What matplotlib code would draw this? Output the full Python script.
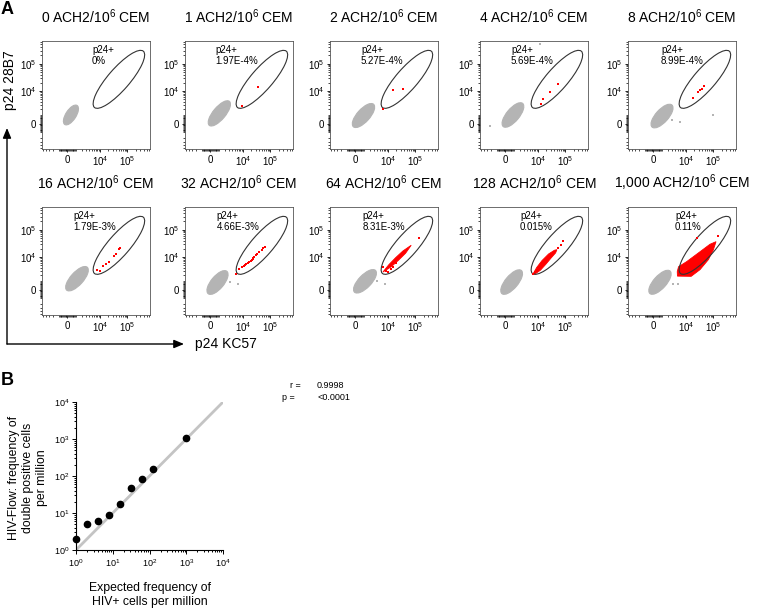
import numpy as np
import matplotlib
matplotlib.use("Agg")
import matplotlib.pyplot as plt
from matplotlib.patches import Ellipse, Polygon, FancyArrowPatch

plt.rcParams["font.family"] = ["Liberation Sans", "DejaVu Sans"]
plt.rcParams["mathtext.fontset"] = "custom"
plt.rcParams["mathtext.rm"] = "Liberation Sans"
plt.rcParams["mathtext.it"] = "Liberation Sans:italic"
plt.rcParams["mathtext.bf"] = "Liberation Sans:bold"

# --- panel A: flow plots, positions in display channels (0-1000) ---
ach2_counts = ["0", "1", "2", "4", "8", "16", "32", "64", "128", "1,000"]
p24_freq = ["0%", "1.97E-4%", "5.27E-4%", "5.69E-4%", "8.99E-4%",
            "1.79E-3%", "4.66E-3%", "8.31E-3%", "0.015%", "0.11%"]
label_x = [463, 278, 287, 287, 306, 287, 293, 303, 370, 435]

# negative (p24-) population: center x, center y, length, width, angle
blob_x = [268, 318, 310, 305, 315, 324, 301, 324, 293, 296]
blob_y = [315, 330, 310, 315, 305, 336, 301, 312, 305, 303]
blob_len = [210, 290, 280, 280, 275, 285, 270, 280, 280, 280]
blob_wid = [95, 115, 118, 118, 118, 118, 118, 118, 118, 118]
blob_ang = [57, 50, 48, 50, 48, 48, 50, 46, 50, 48]

grey_events = [
    [], [], [],
    [(93, 213), (555, 975)],
    [(404, 268), (481, 250), (790, 312)],
    [],
    [(417, 303), (488, 284)],
    [(432, 315), (512, 284)],
    [],
    [(419, 284), (466, 284)],
]

red_events = [
    [],
    [(528, 398), (673, 577)],
    [(494, 373), (580, 549), (673, 553)],
    [(562, 419), (580, 465), (648, 531), (719, 605)],
    [(605, 475), (651, 528), (667, 543), (682, 558), (704, 580)],
    [(506, 417), (537, 410), (568, 454), (593, 469), (623, 494), (669, 546),
     (685, 565), (713, 608), (722, 623)],
    [(472, 377), (503, 426), (525, 447), (546, 457), (556, 463), (565, 472),
     (580, 484), (586, 478), (593, 494), (608, 503), (617, 509), (627, 525),
     (632, 518), (639, 537), (657, 556), (670, 568), (688, 586), (710, 605),
     (725, 617), (741, 632)],
    [(494, 447), (519, 407), (534, 395), (565, 426), (580, 447), (611, 478),
     (821, 716)],
    [(493, 377), (509, 395), (725, 623), (747, 648), (771, 685)],
    [(642, 716), (836, 734)],
]

# dense red areas (too many events to list)
red_area = [
    None, None, None, None, None, None, None,
    [(490, 398), (545, 466), (607, 530), (674, 592), (752, 646),
     (700, 572), (635, 508), (569, 448)],
    [(488, 375), (525, 440), (575, 505), (635, 565), (690, 600), (712, 605),
     (700, 575), (660, 530), (610, 470), (560, 415), (510, 380)],
    [(458, 360), (585, 358), (667, 420), (744, 512), (790, 602), (815, 679),
     (759, 655), (667, 586), (543, 494), (468, 447), (456, 401)],
]

gate = (712, 645, 690, 200, 49)

# --- panel B ---
expected = [1, 2, 4, 8, 16, 32, 64, 128, 1000]
observed = [2, 5, 6, 9, 18, 47, 83, 152, 1070]
fit_x = [1, 10000]
fit_y = [1, 10000]


def chan(v):
    v = np.asarray(v, dtype=float)
    return 235 + 255 * np.arcsinh(v / 1333) / np.log(10)


W, H = 760, 611


def rect(l, t, w, h):
    return [l / W, 1 - (t + h) / H, w / W, h / H]


fig = plt.figure(figsize=(7.6, 6.11), dpi=100)

lefts = [42, 185, 330, 480, 628]
tops = [41, 207]
title_y = [17, 183]

major = chan([0, 1e4, 1e5])
minor_v = []
for e in [2, 3, 4, 5]:
    for k in range(1, 10):
        minor_v.append(k * 10 ** e)
        if e < 4:
            minor_v.append(-k * 10 ** e)
minor = chan(minor_v)
minor = minor[(minor > 0) & (minor < 1000)]

for i in range(10):
    row, col = divmod(i, 5)
    ax = fig.add_axes(rect(lefts[col], tops[row], 108, 108))
    ax.set_xlim(0, 1000)
    ax.set_ylim(0, 1000)

    ax.add_patch(Ellipse((blob_x[i], blob_y[i]), blob_len[i], blob_wid[i],
                         angle=blob_ang[i], fc="#b4b4b4", ec="#b4b4b4", lw=0.8))
    if grey_events[i]:
        gx, gy = zip(*grey_events[i])
        ax.plot(gx, gy, "s", color="#b4b4b4", ms=1.7, mew=0)
    if red_area[i] is not None:
        ax.add_patch(Polygon(red_area[i], closed=True, fc="red", ec="red", lw=0.6))
    if red_events[i]:
        rx, ry = zip(*red_events[i])
        ax.plot(rx, ry, "s", color="red", ms=1.8, mew=0)

    gx0, gy0, gl, gw, ga = gate
    ax.add_patch(Ellipse((gx0, gy0), gl, gw, angle=ga, fill=False,
                         ec="#333333", lw=0.8))
    ax.text(label_x[i], 960, "p24+\n" + p24_freq[i], fontsize=7, va="top",
            ha="left", linespacing=1.05)

    ax.set_xticks(major)
    ax.set_xticklabels(["0", "10$^4$", "10$^5$"])
    ax.set_yticks(major)
    ax.set_yticklabels(["0", "10$^4$", "10$^5$"])
    ax.set_xticks(minor, minor=True)
    ax.set_yticks(minor, minor=True)
    ax.tick_params(which="both", direction="out", labelsize=7, width=0.6,
                   pad=1.5, colors="black")
    ax.tick_params(which="major", length=2.5)
    ax.tick_params(which="minor", length=1.3, width=0.5)
    for s in ax.spines.values():
        s.set_linewidth(0.6)
        s.set_color("#555555")

    fig.text((lefts[col] + 54) / W, 1 - title_y[row] / H,
             ach2_counts[i] + " ACH2/10$^6$ CEM", fontsize=10,
             ha="center", va="center")

# axis arrows for panel A
corner = (7 / W, 1 - 344 / H)
for tip in [(7 / W, 1 - 128 / H), (184 / W, 1 - 344 / H)]:
    fig.add_artist(FancyArrowPatch(corner, tip, transform=fig.transFigure,
                                   arrowstyle="-|>,head_length=0.6,head_width=0.25",
                                   mutation_scale=10, lw=1, color="black",
                                   shrinkA=0, shrinkB=0))
fig.text(10 / W, 1 - 80 / H, "p24 28B7", rotation=90, fontsize=10,
         ha="center", va="center")
fig.text(195 / W, 1 - 344 / H, "p24 KC57", fontsize=10, ha="left", va="center")

fig.text(1 / W, 1 - 1 / H, "A", fontsize=13, fontweight="bold", ha="left", va="top")
fig.text(1 / W, 1 - 372 / H, "B", fontsize=13, fontweight="bold", ha="left", va="top")

# panel B
axb = fig.add_axes(rect(76, 402, 147, 148))
axb.plot(fit_x, fit_y, color="#c4c4c4", lw=2, zorder=1)
axb.plot(expected, observed, "o", color="black", ms=4.5, clip_on=False, zorder=3)
axb.set_xscale("log")
axb.set_yscale("log")
axb.set_xlim(1, 1e4)
axb.set_ylim(1, 1e4)
axb.spines["top"].set_visible(False)
axb.spines["right"].set_visible(False)
axb.tick_params(which="both", direction="out", labelsize=6.5, width=0.7, pad=2)
axb.tick_params(which="major", length=3)
axb.tick_params(which="minor", length=1.6)

fig.text(28 / W, 1 - 478 / H,
         "HIV-Flow: frequency of\ndouble positive cells\nper million",
         rotation=90, fontsize=8.8, ha="center", va="center",
         multialignment="center")
fig.text(150 / W, 1 - 595 / H, "Expected frequency of\nHIV+ cells per million",
         fontsize=8.8, ha="center", va="center", multialignment="center")

fig.text(290 / W, 1 - 385 / H, "r =", fontsize=6.5, ha="left", va="center")
fig.text(282 / W, 1 - 398 / H, "p =", fontsize=6.5, ha="left", va="center")
fig.text(317 / W, 1 - 385 / H, "0.9998", fontsize=6.5, ha="left", va="center")
fig.text(317 / W, 1 - 398 / H, "<0.0001", fontsize=6.5, ha="left", va="center")

fig.savefig("out.png", dpi=100)
